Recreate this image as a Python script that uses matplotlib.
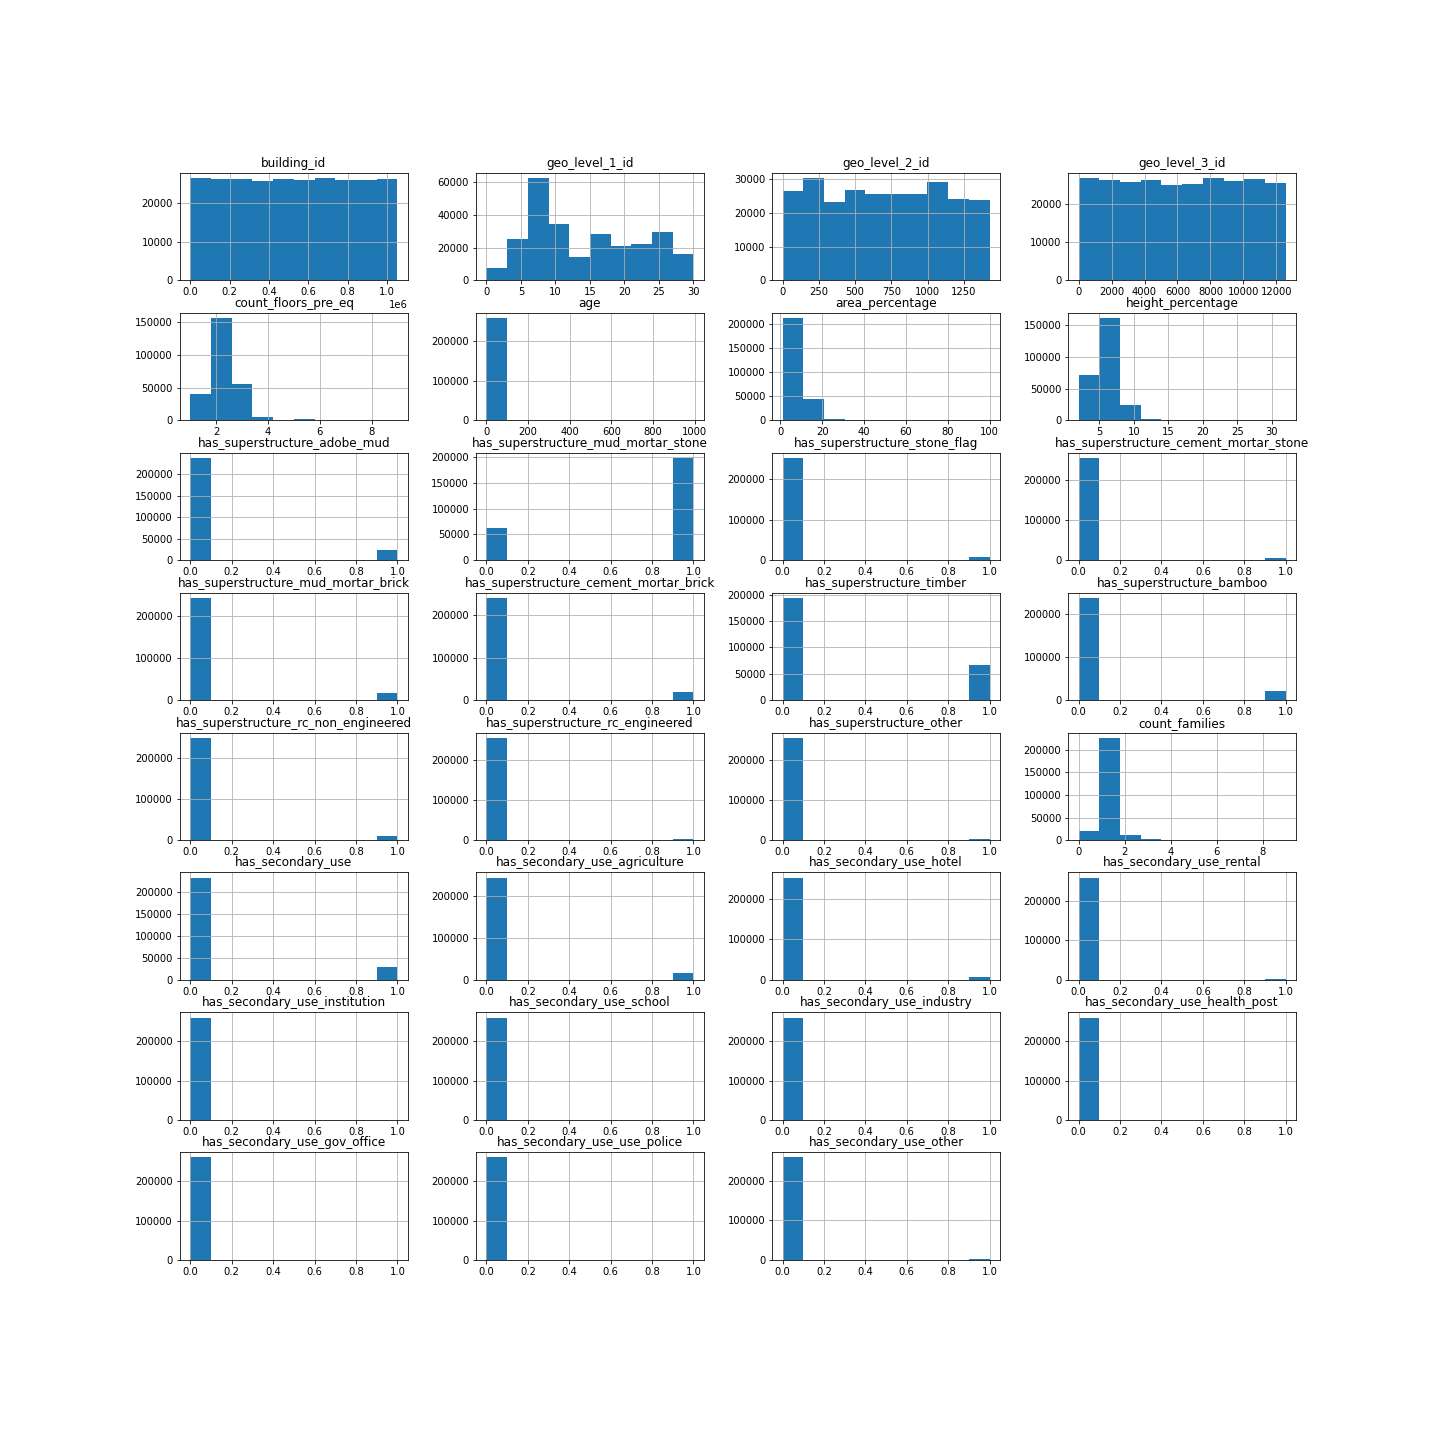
import numpy as np
import matplotlib
matplotlib.use("Agg")
import matplotlib.pyplot as plt

# column names, in plotting order
columns = [
    "building_id", "geo_level_1_id", "geo_level_2_id", "geo_level_3_id",
    "count_floors_pre_eq", "age", "area_percentage", "height_percentage",
    "has_superstructure_adobe_mud", "has_superstructure_mud_mortar_stone",
    "has_superstructure_stone_flag", "has_superstructure_cement_mortar_stone",
    "has_superstructure_mud_mortar_brick", "has_superstructure_cement_mortar_brick",
    "has_superstructure_timber", "has_superstructure_bamboo",
    "has_superstructure_rc_non_engineered", "has_superstructure_rc_engineered",
    "has_superstructure_other", "count_families",
    "has_secondary_use", "has_secondary_use_agriculture",
    "has_secondary_use_hotel", "has_secondary_use_rental",
    "has_secondary_use_institution", "has_secondary_use_school",
    "has_secondary_use_industry", "has_secondary_use_health_post",
    "has_secondary_use_gov_office", "has_secondary_use_use_police",
    "has_secondary_use_other",
]

# value range (min, max) of each column
col_min = [4, 0, 0, 0, 1, 0, 1, 2] + [0] * 11 + [0] + [0] * 11
col_max = [1052934, 30, 1427, 12567, 9, 995, 100, 32] + [1] * 11 + [9] + [1] * 11

# bin counts (10 bins per column)
building_id = [26500, 26200, 26200, 25700, 26200, 26000, 26500, 26000, 26000, 26200]
geo_level_1_id = [7500, 25000, 62500, 34500, 14500, 28500, 21000, 22500, 29500, 16200]
geo_level_2_id = [26500, 30300, 23200, 26800, 25600, 25600, 25600, 29100, 24100, 23900]
geo_level_3_id = [26800, 26300, 25800, 26300, 25000, 25300, 26800, 26000, 26600, 25500]
count_floors_pre_eq = [40400, 156600, 55600, 5400, 0, 2200, 200, 40, 1, 1]
age = [259200, 0, 0, 0, 0, 0, 0, 0, 0, 1390]
area_percentage = [213000, 44500, 2500, 400, 100, 50, 20, 10, 5, 10]
height_percentage = [72000, 161000, 23500, 2500, 300, 100, 50, 20, 10, 10]
count_families = [20860, 226115, 11294, 1802, 389, 104, 22, 7, 2, 4]

# binary columns: (count of 0, count of 1)
binary_counts = {
    "has_superstructure_adobe_mud": (237500, 23100),
    "has_superstructure_mud_mortar_stone": (62600, 198000),
    "has_superstructure_stone_flag": (251650, 8950),
    "has_superstructure_cement_mortar_stone": (255850, 4750),
    "has_superstructure_mud_mortar_brick": (242840, 17760),
    "has_superstructure_cement_mortar_brick": (240990, 19615),
    "has_superstructure_timber": (194150, 66450),
    "has_superstructure_bamboo": (238450, 22150),
    "has_superstructure_rc_non_engineered": (249500, 11100),
    "has_superstructure_rc_engineered": (256470, 4130),
    "has_superstructure_other": (256700, 3900),
    "has_secondary_use": (231450, 29150),
    "has_secondary_use_agriculture": (243820, 16780),
    "has_secondary_use_hotel": (251840, 8760),
    "has_secondary_use_rental": (258500, 2100),
    "has_secondary_use_institution": (260356, 245),
    "has_secondary_use_school": (260507, 94),
    "has_secondary_use_industry": (260322, 279),
    "has_secondary_use_health_post": (260552, 49),
    "has_secondary_use_gov_office": (260563, 38),
    "has_secondary_use_use_police": (260578, 23),
    "has_secondary_use_other": (259270, 1330),
}

numeric_counts = {
    "building_id": building_id,
    "geo_level_1_id": geo_level_1_id,
    "geo_level_2_id": geo_level_2_id,
    "geo_level_3_id": geo_level_3_id,
    "count_floors_pre_eq": count_floors_pre_eq,
    "age": age,
    "area_percentage": area_percentage,
    "height_percentage": height_percentage,
    "count_families": count_families,
}


def counts_for(name):
    if name in numeric_counts:
        return np.array(numeric_counts[name], dtype=float)
    c0, c1 = binary_counts[name]
    return np.array([c0] + [0] * 8 + [c1], dtype=float)


fig, axes = plt.subplots(8, 4, figsize=(20, 20), dpi=72)
fig.subplots_adjust(left=0.125, right=0.9, top=0.88, bottom=0.125,
                    wspace=0.3, hspace=0.3)

flat = axes.ravel()
for i, name in enumerate(columns):
    ax = flat[i]
    edges = np.linspace(col_min[i], col_max[i], 11)
    ax.hist(edges[:-1], bins=edges, weights=counts_for(name), color="#1f77b4")
    ax.set_title(name)
    ax.grid(True)

for ax in flat[len(columns):]:
    ax.set_visible(False)

fig.savefig("out.png", dpi=72)
